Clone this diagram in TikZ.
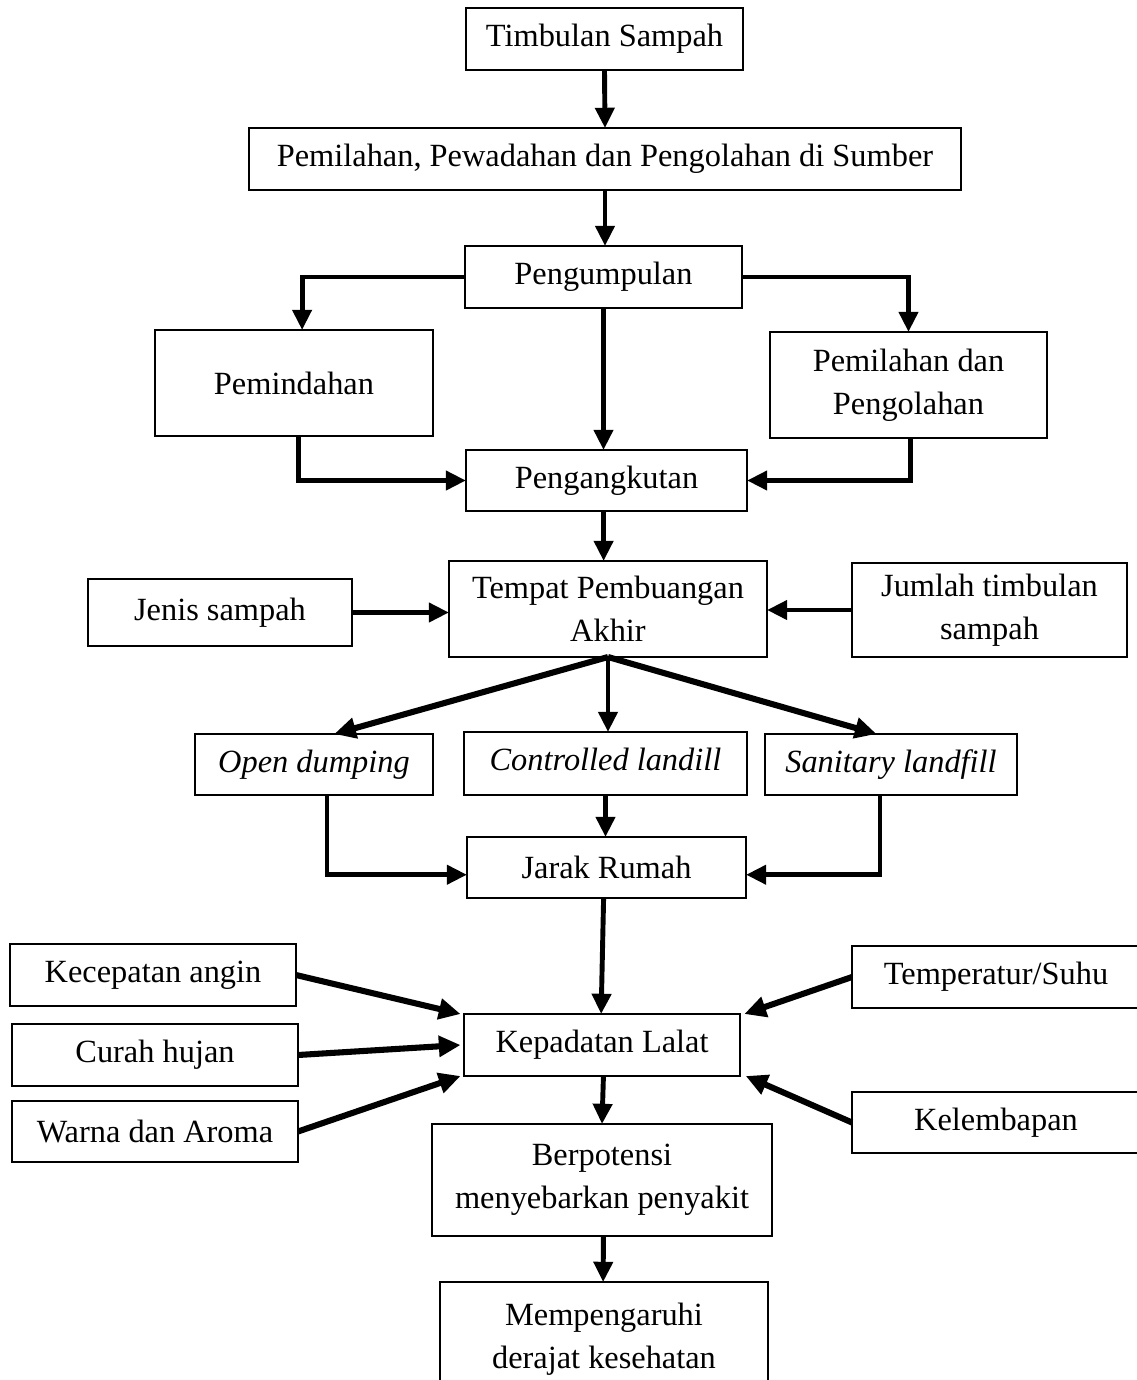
\documentclass[tikz,border=0pt]{standalone}
\usepackage{fontspec}
\setmainfont{Liberation Serif}
\usetikzlibrary{arrows.meta,calc}
\begin{document}
\begin{tikzpicture}[x=0.346pt,y=-0.346pt,
  box/.style={draw,line width=0.7pt,inner sep=0pt,outer sep=0pt,align=center,
    font=\fontsize{11.2}{14.9}\selectfont},
  bx/.style n args={4}{minimum width={(#3-#1)*0.346pt},minimum height={(#4-#2)*0.346pt},
    at={({(#1+#3)/2},{(#2+#4)/2})}},
  it/.style={font=\fontsize{11.2}{14.9}\selectfont\itshape},
  conn/.style={line width=1.7pt,-{Triangle[length=7pt,width=6.5pt]}},
  diag/.style={line width=2.1pt,-{Triangle[length=7.5pt,width=7pt]}}]
\useasboundingbox (0,0) rectangle (1137,1380);
\fill[white] (0,0) rectangle (1137,1380);
\clip (0,0) rectangle (1137,1380);

\node[box,bx={466}{8}{743}{70}] (ts) {Timbulan Sampah};
\node[box,bx={249}{128}{961}{190}] (pem) {Pemilahan, Pewadahan dan Pengolahan di Sumber};
\node[box,bx={465}{246}{742}{308}] (pgm) {Pengumpulan};
\node[box,bx={155}{330}{433}{436}] (pind) {Pemindahan};
\node[box,bx={770}{332}{1047}{438}] (pil) {Pemilahan dan\\Pengolahan};
\node[box,bx={466}{450}{747}{511}] (ang) {Pengangkutan};
\node[box,bx={449}{561}{767}{657}] (tpa) {Tempat Pembuangan\\Akhir};
\node[box,bx={88}{579}{352}{646}] (jenis) {Jenis sampah};
\node[box,bx={852}{563}{1127}{657}] (jml) {\raisebox{-4pt}{\parbox{2.9cm}{\centering Jumlah timbulan\\sampah}}};
\node[box,it,bx={195}{734}{433}{795}] (od) {Open dumping};
\node[box,it,bx={464}{732}{747}{795}] (cl) {\raisebox{3pt}{Controlled landill}};
\node[box,it,bx={765}{734}{1017}{795}] (sl) {Sanitary landfill};
\node[box,bx={467}{837}{746}{898}] (jr) {Jarak Rumah};
\node[box,bx={10}{944}{296}{1006}] (ka) {Kecepatan angin};
\node[box,bx={12}{1024}{298}{1086}] (ch) {Curah hujan};
\node[box,bx={12}{1101}{298}{1162}] (wa) {Warna dan Aroma};
\node[box,bx={464}{1014}{740}{1076}] (kl) {Kepadatan Lalat};
\node[box,bx={852}{946}{1140}{1008}] (tp) {Temperatur/Suhu};
\node[box,bx={852}{1092}{1140}{1153}] (kb) {Kelembapan};
\node[box,bx={432}{1124}{772}{1236}] (bp) {Berpotensi\\menyebarkan penyakit};
\node[box,bx={440}{1282}{768}{1410}] (mp) {\raisebox{14.5pt}{\parbox{3.5cm}{\centering Mempengaruhi\\derajat kesehatan}}};

\draw[conn] (ts.south) -- (pem.north);
\draw[conn] (pem.south) -- (pem.south |- pgm.north);
\draw[conn] (pgm.west) -| ([xshift=2.8pt]pind.north);
\draw[conn] (pgm.east) -| (pil.north);
\draw[conn] (pgm.south) -- (pgm.south |- ang.north);
\draw[conn] ([xshift=1.7pt]pind.south) |- (ang.west);
\draw[conn] ([xshift=0.8pt]pil.south) |- (ang.east);
\draw[conn] ([xshift=-1pt]ang.south) -- ([xshift=-1pt]ang.south |- tpa.north);
\draw[conn] (jenis.east) -- (jenis.east -| tpa.west);
\draw[conn] (jml.west) -- (jml.west -| tpa.east);
\draw[diag] (tpa.south) -- ([xshift=7pt]od.north);
\draw[conn] (tpa.south) -- (tpa.south |- cl.north);
\draw[diag] (tpa.south) -- ([xshift=-5pt]sl.north);
\draw[conn] ([xshift=4.5pt]od.south) |- ([yshift=-2.5pt]jr.west);
\draw[conn] ([xshift=-3.8pt]sl.south) |- ([yshift=-2.5pt]jr.east);
\draw[conn] (cl.south) -- (cl.south |- jr.north);
\draw[conn] ([xshift=-1pt]jr.south) -- ([xshift=-0.3pt]kl.north);
\draw[diag] (ka.east) -- ([xshift=-1.2pt]kl.north west);
\draw[diag] (ch.east) -- ([xshift=-1.2pt]kl.west);
\draw[diag] (wa.east) -- ([xshift=-1.2pt]kl.south west);
\draw[diag] (tp.west) -- ([xshift=1.5pt]kl.north east);
\draw[diag] (kb.west) -- ([xshift=2pt]kl.south east);
\draw[conn] ([xshift=0.5pt]kl.south) -- (bp.north);
\draw[conn] ([xshift=0.5pt]bp.south) -- ([xshift=-0.3pt]mp.north);
\end{tikzpicture}
\end{document}
